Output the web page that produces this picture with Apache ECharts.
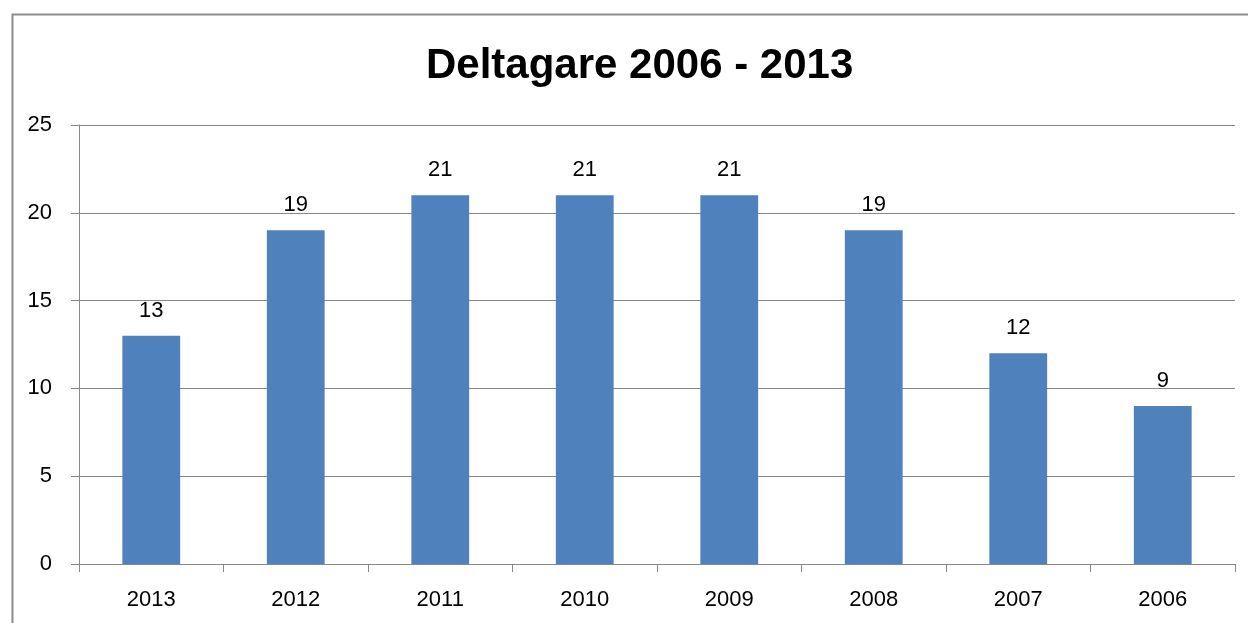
<!DOCTYPE html>
<html>
<head>
<meta charset="utf-8">
<script src="https://cdn.jsdelivr.net/npm/echarts@6/dist/echarts.min.js"></script>
<style>html,body{margin:0;padding:0;background:#fff}#c{width:1248px;height:623px}</style>
</head>
<body>
<div id="c"></div>
<script>
const categories = ['2013','2012','2011','2010','2009','2008','2007','2006'];
const values = [13, 19, 21, 21, 21, 19, 12, 9];
const titleText = 'Deltagare 2006 - 2013';

const chart = echarts.init(document.getElementById('c'), null, {renderer: 'canvas'});
const font = 'Liberation Sans, Arial, sans-serif';
chart.setOption({
  animation: false,
  backgroundColor: '#fff',
  graphic: [{
    type: 'rect', left: 10, top: 12,
    shape: {width: 1260, height: 640},
    style: {fill: 'none', stroke: '#8c8c8c', lineWidth: 2},
    silent: true, z: -1
  }],
  title: {
    text: titleText, left: 421, top: 40,
    textStyle: {fontFamily: font, fontSize: 42, fontWeight: 'bold', color: '#000'}
  },
  grid: {left: 79, right: 13, top: 125, bottom: 59, containLabel: false},
  xAxis: {
    type: 'category', data: categories,
    axisLine: {show: true, lineStyle: {color: '#888', width: 1}},
    axisTick: {show: true, length: 8, lineStyle: {color: '#888'}},
    axisLabel: {fontFamily: font, fontSize: 22, color: '#000', margin: 25}
  },
  yAxis: {
    type: 'value', min: 0, max: 25, interval: 5,
    axisLine: {show: true, lineStyle: {color: '#888', width: 1}},
    axisTick: {show: true, length: 8, lineStyle: {color: '#888'}},
    splitLine: {show: true, lineStyle: {color: '#888', width: 1}},
    axisLabel: {fontFamily: font, fontSize: 22, color: '#000', margin: 27}
  },
  series: [{
    type: 'bar', data: values, barWidth: '40%',
    itemStyle: {color: '#4f81bd'},
    label: {show: true, position: 'top', distance: 14, fontFamily: font, fontSize: 22, color: '#000'}
  }]
});
</script>
</body>
</html>
